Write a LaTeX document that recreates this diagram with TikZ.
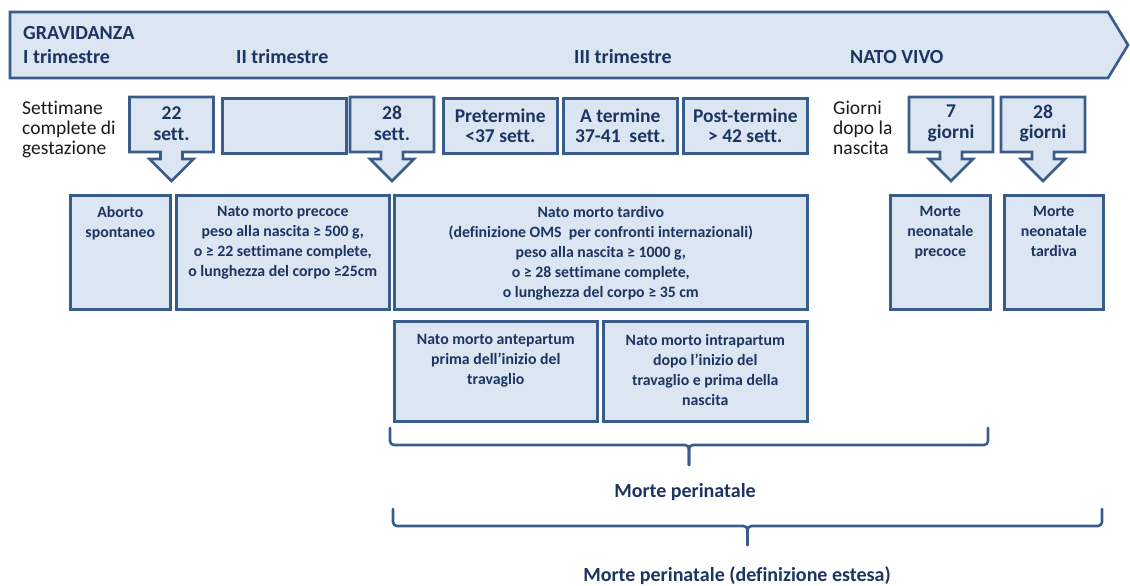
\documentclass[tikz,border=0pt]{standalone}
\usepackage{fontspec}
\setmainfont{Carlito}[Ligatures=NoCommon]
\usepackage{xcolor}
\usepackage{tikz}
\usetikzlibrary{positioning,calc}
\definecolor{boxfill}{HTML}{DCE6F2}
\definecolor{boxline}{HTML}{385D8A}
\definecolor{navy}{HTML}{1B3462}
\definecolor{ink}{HTML}{1A1A1A}

% box with a down arrow: name, centre x, text
\newcommand{\weekcallout}[3]{%
  \draw[shapeline] (#2-42,97) -- (#2+42,97) -- (#2+42,152) -- (#2+11,152) -- (#2+11,159)
    -- (#2+22,159) -- (#2,181) -- (#2-22,159) -- (#2-11,159) -- (#2-11,152) -- (#2-42,152) -- cycle;
  \node[bigtext] (#1) at (#2,123.5) {#3};}

\begin{document}
\begin{tikzpicture}[x=1pt, y=-1pt,
    shapeline/.style={draw=boxline, fill=boxfill, line width=2.6pt, line join=miter},
    wkbox/.style={shapeline, inner sep=0pt, anchor=north west, minimum height=55pt},
    catbox/.style={shapeline, inner sep=0pt, anchor=north west},
    bigtext/.style={text=navy, font=\fontsize{19.5}{20.5}\selectfont\bfseries, align=center, inner sep=0pt},
    smalltext/.style={text=navy, font=\fontsize{15.8}{20}\selectfont\bfseries, align=center, inner sep=0pt, anchor=north},
    bandtext/.style={text=navy, font=\fontsize{20}{22}\selectfont\bfseries, anchor=west, inner sep=0pt},
    plaintext/.style={text=ink, font=\fontsize{19.5}{20}\selectfont, align=left, anchor=north west, inner sep=0pt},
    bracket/.style={draw=boxline, line width=2.6pt, rounded corners=4pt, line cap=round}]
  \useasboundingbox (0,0) rectangle (1130,586);

  % band on top
  \draw[shapeline] (10,12) -- (1108,12) -- (1128,45) -- (1108,78) -- (10,78) -- cycle;
  \node[bandtext] (grav) at (23,33) {GRAVIDANZA};
  \node[bandtext] (tri1) at (23,57) {I trimestre};
  \node[bandtext] (tri2) at (236,57) {II trimestre};
  \node[bandtext] (tri3) at (574,57) {III trimestre};
  \node[bandtext] (natovivo) at (850,57) {NATO VIVO};

  % weeks and days
  \node[plaintext] (settimane) at (22,101) {Settimane\\complete di\\gestazione};
  \weekcallout{w22}{171.5}{22\\sett.}
  \node[wkbox, minimum width=124pt] (wblank) at (221,97) {};
  \weekcallout{w28}{392}{28\\sett.}
  \node[wkbox, minimum width=114pt, bigtext] (preterm) at (442,97) {Pretermine\\<37 sett.};
  \node[wkbox, minimum width=114pt, bigtext] (aterm) at (562,97) {A termine\\37-41~ sett.};
  \node[wkbox, minimum width=124pt, bigtext] (postterm) at (682,97) {Post-termine\\> 42 sett.};
  \node[plaintext] (giorni) at (833,101) {Giorni\\dopo la\\nascita};
  \weekcallout{g7}{951}{7\\giorni}
  \weekcallout{g28}{1043}{28\\giorni}

  % outcomes
  \node[catbox, minimum width=100pt, minimum height=114pt] (aborto) at (69,194) {};
  \node[catbox, minimum width=213pt, minimum height=114pt] (mprecoce) at (175,194) {};
  \node[catbox, minimum width=413pt, minimum height=114pt] (mtardivo) at (393,194) {};
  \node[catbox, minimum width=100pt, minimum height=114pt] (nprecoce) at (889,194) {};
  \node[catbox, minimum width=99pt, minimum height=114pt] (ntardiva) at (1003,194) {};
  \node[catbox, minimum width=203pt, minimum height=100pt] (antep) at (393,320) {};
  \node[catbox, minimum width=204pt, minimum height=100pt] (intrap) at (602,320) {};

  \node[smalltext] (abortotxt) at ($(aborto.north)+(0,12)$) {Aborto\\spontaneo};
  \node[smalltext] (mprecocetxt) at ($(mprecoce.north)+(0,12)$) {Nato morto precoce\\peso alla nascita ≥ 500 g,\\o ≥ 22 settimane complete,\\o lunghezza del corpo ≥25cm};
  \node[smalltext] (mtardivotxt) at ($(mtardivo.north)+(0,12)$) {Nato morto tardivo\\(definizione OMS~ per confronti internazionali)\\peso alla nascita ≥ 1000 g,\\o ≥ 28 settimane complete,\\o lunghezza del corpo ≥ 35 cm};
  \node[smalltext] (nprecocetxt) at ($(nprecoce.north)+(0,12)$) {Morte\\neonatale\\precoce};
  \node[smalltext] (ntardivatxt) at ($(ntardiva.north)+(0,12)$) {Morte\\neonatale\\tardiva};
  \node[smalltext] (anteptxt) at ($(antep.north)+(0,14)$) {Nato morto antepartum\\prima dell’inizio del\\travaglio};
  \node[smalltext] (intraptxt) at ($(intrap.north)+(0,14)$) {Nato morto intrapartum\\dopo l’inizio del\\travaglio e prima della\\nascita};

  % brackets
  \coordinate (b1l) at (390,428);
  \coordinate (b1r) at (988,428);
  \coordinate (b1m) at (689,445);
  \draw[bracket] (b1l) |- (b1m) -- ++(0,20);
  \draw[bracket] (b1r) |- (b1m) -- ++(0,20);
  \node[bigtext, font=\fontsize{20}{22}\selectfont\bfseries] (perinat) at (685,492) {Morte perinatale};

  \coordinate (b2l) at (393,509);
  \coordinate (b2r) at (1102,509);
  \coordinate (b2m) at (747.5,526);
  \draw[bracket] (b2l) |- (b2m) -- ++(0,19);
  \draw[bracket] (b2r) |- (b2m) -- ++(0,19);
  \node[bigtext, font=\fontsize{20}{22}\selectfont\bfseries] (perinatest) at (737,576) {Morte perinatale (definizione estesa)};
\end{tikzpicture}
\end{document}
